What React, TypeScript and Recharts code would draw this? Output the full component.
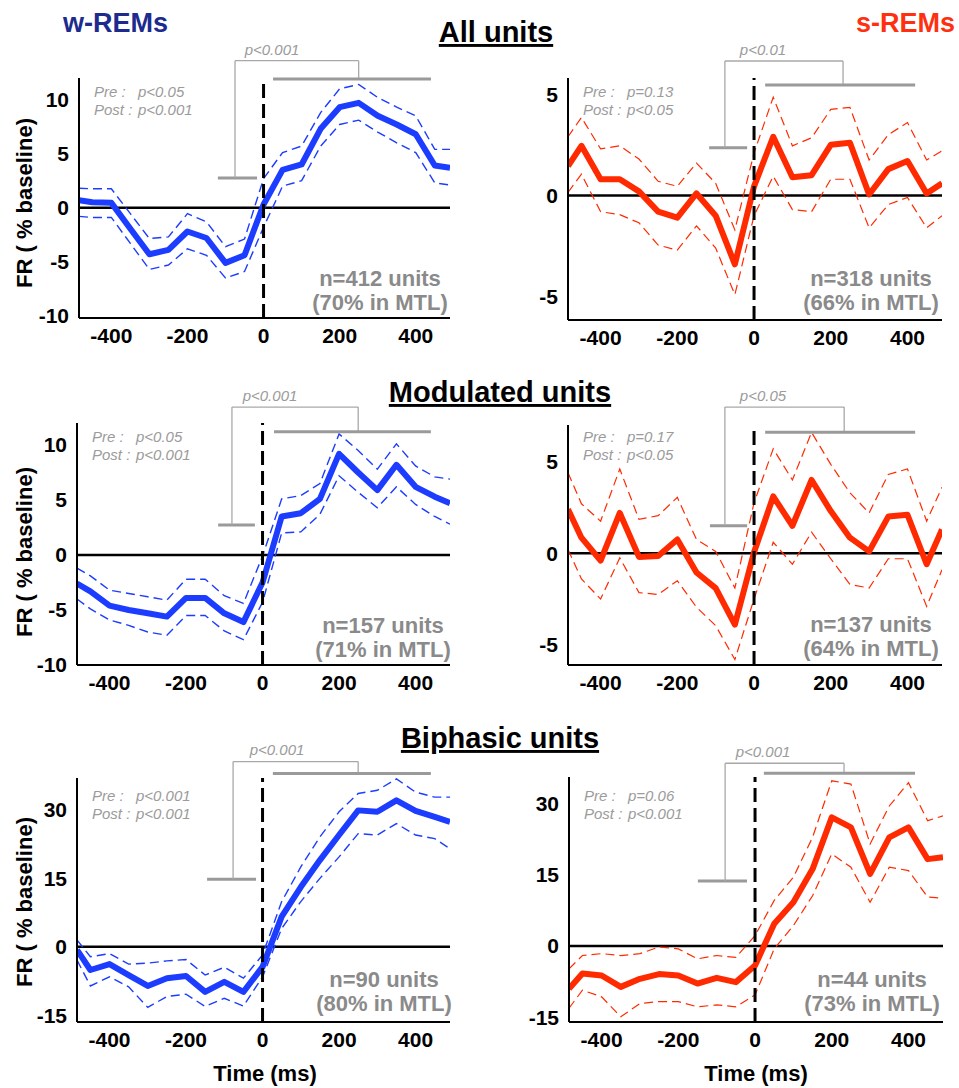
import React from "react";
import { LineChart, Line, XAxis, YAxis, ReferenceLine } from "recharts";

// time bins (ms) and axis ticks
const times = [-485, -450, -400, -350, -300, -250, -200, -150, -100, -50, 0, 50, 100, 150, 200, 250, 300, 350, 400, 450, 490];
const xTicks = [-400, -200, 0, 200, 400];

// All units
const allWMean = [0.7, 0.5, 0.45, -1.95, -4.3, -3.9, -2.2, -2.8, -5.1, -4.4, 0.3, 3.5, 4.0, 7.3, 9.3, 9.7, 8.5, 7.7, 6.8, 3.9, 3.7];
const allWHi = [1.8, 1.75, 1.75, -0.55, -2.85, -2.7, -0.55, -1.3, -3.6, -2.9, 2.7, 5.1, 5.7, 8.8, 11.0, 11.4, 10.2, 9.3, 8.5, 5.4, 5.4];
const allWLo = [-0.8, -0.9, -0.9, -3.3, -5.7, -5.3, -3.8, -4.4, -6.5, -5.9, -1.8, 2.0, 2.5, 5.7, 7.7, 8.1, 7.0, 6.0, 5.1, 2.3, 2.1];
const allSMean = [1.45, 2.45, 0.8, 0.8, 0.2, -0.8, -1.1, 0.1, -1.0, -3.4, 0.45, 2.9, 0.9, 1.0, 2.5, 2.6, 0.05, 1.3, 1.7, 0.1, 0.6];
const allSHi = [2.9, 3.85, 2.3, 2.45, 1.8, 0.7, 0.45, 1.6, 0.6, -1.7, 2.1, 4.85, 2.45, 2.85, 4.25, 4.35, 1.75, 3.0, 3.6, 1.75, 2.2];
const allSLo = [0.15, 1.05, -0.8, -0.95, -1.35, -2.45, -2.7, -1.5, -2.6, -4.9, -1.0, 0.95, -0.7, -0.8, 0.8, 0.8, -1.6, -0.45, -0.1, -1.6, -1.0];

// Modulated units
const modWMean = [-2.6, -3.3, -4.6, -5.0, -5.3, -5.6, -3.9, -3.9, -5.3, -6.1, -2.5, 3.5, 3.8, 5.1, 9.2, 7.5, 5.9, 8.2, 6.2, 5.3, 4.7];
const modWHi = [-1.2, -1.9, -3.2, -3.5, -3.8, -4.1, -2.2, -2.2, -3.7, -4.4, -0.1, 5.1, 5.4, 6.5, 11.0, 9.5, 7.8, 10.1, 8.1, 7.1, 6.9];
const modWLo = [-4.0, -4.9, -5.9, -6.4, -7.0, -7.3, -5.5, -5.5, -6.9, -7.7, -4.3, 2.0, 2.1, 3.7, 7.2, 5.7, 4.3, 6.2, 4.6, 3.5, 2.8];
const modSMean = [2.4, 0.85, -0.4, 2.2, -0.2, -0.15, 0.75, -1.05, -1.9, -3.9, 0.05, 3.1, 1.5, 4.0, 2.3, 0.85, 0.1, 2.0, 2.1, -0.6, 1.3];
const modSHi = [4.4, 2.7, 1.75, 4.6, 1.85, 2.05, 3.05, 0.75, 0.1, -1.9, 2.75, 5.7, 4.0, 6.6, 4.85, 3.3, 2.2, 4.3, 4.6, 1.75, 3.6];
const modSLo = [0.2, -1.4, -2.5, -0.25, -2.15, -2.25, -1.5, -2.95, -3.95, -5.8, -2.5, 0.6, -0.6, 1.15, -0.3, -1.7, -1.9, -0.3, -0.3, -2.9, -0.9];

// Biphasic units
const biWMean = [-0.7, -5.1, -3.8, -6.2, -8.6, -6.9, -6.4, -9.9, -7.7, -9.9, -4.4, 6.6, 13.1, 19.0, 24.5, 29.9, 29.6, 32.1, 29.8, 28.5, 27.4];
const biWHi = [1.5, -2.2, -1.5, -3.8, -3.6, -3.1, -2.8, -6.2, -4.5, -6.9, -1.8, 9.9, 17.5, 24.1, 29.6, 33.6, 34.3, 36.8, 33.9, 32.8, 32.8];
const biWLo = [-2.9, -8.6, -6.6, -8.8, -13.3, -10.9, -10.4, -13.1, -11.3, -13.0, -6.6, 4.0, 9.9, 15.0, 19.7, 24.8, 24.5, 27.0, 24.5, 23.7, 21.5];
const biSMean = [-9.0, -5.8, -6.2, -8.6, -6.9, -5.9, -6.2, -7.9, -6.7, -7.6, -4.1, 4.7, 9.2, 16.2, 27.1, 25.0, 15.2, 22.9, 25.0, 18.3, 18.7];
const biSHi = [-4.8, -2.0, -1.6, -2.0, -1.6, -0.2, -0.6, -2.7, -2.0, -2.4, 2.2, 9.6, 14.5, 22.9, 34.8, 34.1, 21.5, 29.5, 34.4, 26.4, 27.4];
const biSLo = [-13.1, -9.3, -10.7, -14.9, -12.1, -11.7, -11.7, -12.8, -12.4, -12.8, -10.3, -0.6, 4.3, 10.6, 19.4, 16.6, 9.2, 16.6, 15.9, 10.3, 10.1];

// annotation texts
const preP = ["p<0.05", "p=0.13", "p<0.05", "p=0.17", "p<0.001", "p=0.06"];
const postP = ["p<0.001", "p<0.05", "p<0.001", "p<0.05", "p<0.001", "p<0.001"];
const bracketP = ["p<0.001", "p<0.01", "p<0.001", "p<0.05", "p<0.001", "p<0.001"];
const unitCounts = ["n=412 units", "n=318 units", "n=157 units", "n=137 units", "n=90 units", "n=44 units"];
const mtlShare = ["(70% in MTL)", "(66% in MTL)", "(71% in MTL)", "(64% in MTL)", "(80% in MTL)", "(73% in MTL)"];
const rowTitles = ["All units", "Modulated units", "Biphasic units"];

const BLUE = "#1c3cff";
const RED = "#ff2a00";
const GRAY = "#9b9b9b";
const FONT = "'Liberation Sans', Arial, Helvetica, sans-serif";

const panels = [
  { box: [79, 78, 450, 318], domain: [-10.2, 12], yTicks: [-10, -5, 0, 5, 10], color: BLUE, mean: allWMean, hi: allWHi, lo: allWLo,
    br: { pre: [-120, -17], preY: 2.75, left: -75, right: 250, top: 13.6, post: [25, 440], postY: 11.9 },
    statY: 97, nX: 380, nY: 286, pX: 272, pY: 55 },
  { box: [568, 78, 942, 320], domain: [-6.15, 5.8], yTicks: [-5, 0, 5], color: RED, mean: allSMean, hi: allSHi, lo: allSLo,
    br: { pre: [-117, -18], preY: 2.35, left: -76, right: 232, top: 6.64, post: [29, 420], postY: 5.46 },
    statY: 97, nX: 871, nY: 286, pX: 763, pY: 55 },
  { box: [77, 423, 450, 665], domain: [-10, 12], yTicks: [-10, -5, 0, 5, 10], color: BLUE, mean: modWMean, hi: modWHi, lo: modWLo,
    br: { pre: [-116, -20], preY: 2.73, left: -80, right: 250, top: 13.45, post: [30, 440], postY: 11.2 },
    statY: 442, nX: 383, nY: 633, pX: 270, pY: 401 },
  { box: [568, 425, 942, 665], domain: [-6.1, 7], yTicks: [-5, 0, 5], color: RED, mean: modSMean, hi: modSHi, lo: modSLo,
    br: { pre: [-115, -18], preY: 1.5, left: -76, right: 235, top: 7.98, post: [29, 420], postY: 6.6 },
    statY: 442, nX: 871, nY: 632, pX: 763, pY: 401 },
  { box: [77, 778, 450, 1022], domain: [-16.5, 37], yTicks: [-15, 0, 15, 30], color: BLUE, mean: biWMean, hi: biWHi, lo: biWLo,
    br: { pre: [-145, -17], preY: 14.8, left: -77, right: 250, top: 40.6, post: [27, 440], postY: 38.0 },
    statY: 801, nX: 384, nY: 987, pX: 277, pY: 755 },
  { box: [569, 777, 943, 1022], domain: [-16, 35.6], yTicks: [-15, 0, 15, 30], color: RED, mean: biSMean, hi: biSHi, lo: biSLo,
    br: { pre: [-149, -21], preY: 13.7, left: -78, right: 232, top: 38.5, post: [23, 417], postY: 36.4 },
    statY: 801, nX: 872, nY: 987, pX: 763, pY: 757 },
];

const tickStyle = { fill: "#000", fontSize: 21, fontWeight: 700, fontFamily: FONT };
const axisStyle = { stroke: "#000", strokeWidth: 2 };

function Panel({ p }: { p: any }) {
  const data = times.map((t, i) => ({ t, mean: p.mean[i], hi: p.hi[i], lo: p.lo[i] }));
  const [x0, y0, x1, y1] = p.box;
  const width = x1 - x0 + 78 + 20;
  const height = y1 - y0 + 78 + 50;
  const b = p.br;
  const thin = { stroke: "#a8a8a8", strokeWidth: 1.3, ifOverflow: "visible" as const };
  const bar = { stroke: "#9a9a9a", strokeWidth: 3, ifOverflow: "visible" as const };
  const dashW = p.color === RED ? 1.2 : 1.4;
  return (
    <div style={{ position: "absolute", left: x0 - 78, top: y0 - 78 }}>
      <LineChart width={width} height={height} data={data} margin={{ top: 78, right: 20, bottom: 20, left: 0 }}>
        <XAxis type="number" dataKey="t" domain={[-485, 490]} ticks={xTicks} interval={0} allowDataOverflow
          height={30} tickSize={0} tickMargin={10} tickLine={false} axisLine={axisStyle} tick={tickStyle} />
        <YAxis type="number" domain={p.domain} ticks={p.yTicks} interval={0} allowDataOverflow
          width={78} tickSize={0} tickMargin={10} tickLine={false} axisLine={axisStyle} tick={tickStyle} />
        <ReferenceLine y={0} stroke="#000" strokeWidth={2.5} />
        <Line type="linear" dataKey="hi" stroke={p.color} strokeWidth={dashW} strokeDasharray="9 5" dot={false} isAnimationActive={false} />
        <Line type="linear" dataKey="lo" stroke={p.color} strokeWidth={dashW} strokeDasharray="9 5" dot={false} isAnimationActive={false} />
        <Line type="linear" dataKey="mean" stroke={p.color} strokeWidth={6} strokeLinejoin="round" dot={false} isAnimationActive={false} />
        <ReferenceLine x={0} stroke="#000" strokeWidth={3} strokeDasharray="14 6" />
        <ReferenceLine segment={[{ x: b.pre[0], y: b.preY }, { x: b.pre[1], y: b.preY }]} {...bar} />
        <ReferenceLine segment={[{ x: b.left, y: b.preY }, { x: b.left, y: b.top }]} {...thin} />
        <ReferenceLine segment={[{ x: b.left, y: b.top }, { x: b.right, y: b.top }]} {...thin} />
        <ReferenceLine segment={[{ x: b.right, y: b.top }, { x: b.right, y: b.postY }]} {...thin} />
        <ReferenceLine segment={[{ x: b.post[0], y: b.postY }, { x: b.post[1], y: b.postY }]} {...bar} />
      </LineChart>
    </div>
  );
}

export default function App() {
  return (
    <div style={{ position: "absolute", left: 0, top: 0, width: 959, height: 1088, background: "#fff", overflow: "hidden" }}>
      {panels.map((p, i) => (
        <Panel key={i} p={p} />
      ))}
      <svg width={959} height={1088} style={{ position: "absolute", left: 0, top: 0, pointerEvents: "none" }} fontFamily={FONT}>
        <text x={63} y={32} fontSize={27} fontWeight={700} fill="#1d2a8e">w-REMs</text>
        <text x={955} y={32} textAnchor="end" fontSize={27} fontWeight={700} fill="#ff3010">s-REMs</text>
        <text x={496} y={42} textAnchor="middle" fontSize={29} fontWeight={700} textDecoration="underline">{rowTitles[0]}</text>
        <text x={500} y={402} textAnchor="middle" fontSize={29} fontWeight={700} textDecoration="underline">{rowTitles[1]}</text>
        <text x={500} y={748} textAnchor="middle" fontSize={29} fontWeight={700} textDecoration="underline">{rowTitles[2]}</text>
        {[203, 552, 902].map((cy, i) => (
          <text key={"yl" + i} transform={`translate(32,${cy}) rotate(-90)`} textAnchor="middle" fontSize={22} fontWeight={700}>
            FR ( % baseline)
          </text>
        ))}
        <text x={265} y={1081} textAnchor="middle" fontSize={22} fontWeight={700}>Time (ms)</text>
        <text x={756} y={1081} textAnchor="middle" fontSize={22} fontWeight={700}>Time (ms)</text>
        {panels.map((p, i) => {
          const [x0] = p.box;
          return (
            <g key={"a" + i}>
              <text x={x0 + 15} y={p.statY} fontSize={15} fontStyle="italic" fill={GRAY}>Pre :</text>
              <text x={x0 + 59} y={p.statY} fontSize={15} fontStyle="italic" fill={GRAY}>{preP[i]}</text>
              <text x={x0 + 15} y={p.statY + 18} fontSize={15} fontStyle="italic" fill={GRAY}>Post :</text>
              <text x={x0 + 59} y={p.statY + 18} fontSize={15} fontStyle="italic" fill={GRAY}>{postP[i]}</text>
              <text x={p.pX} y={p.pY} textAnchor="middle" fontSize={15} fontStyle="italic" fill={GRAY}>{bracketP[i]}</text>
              <text x={p.nX} y={p.nY} textAnchor="middle" fontSize={22} fontWeight={700} fill="#8a8a8a">{unitCounts[i]}</text>
              <text x={p.nX} y={p.nY + 24} textAnchor="middle" fontSize={22} fontWeight={700} fill="#8a8a8a">{mtlShare[i]}</text>
            </g>
          );
        })}
      </svg>
    </div>
  );
}
